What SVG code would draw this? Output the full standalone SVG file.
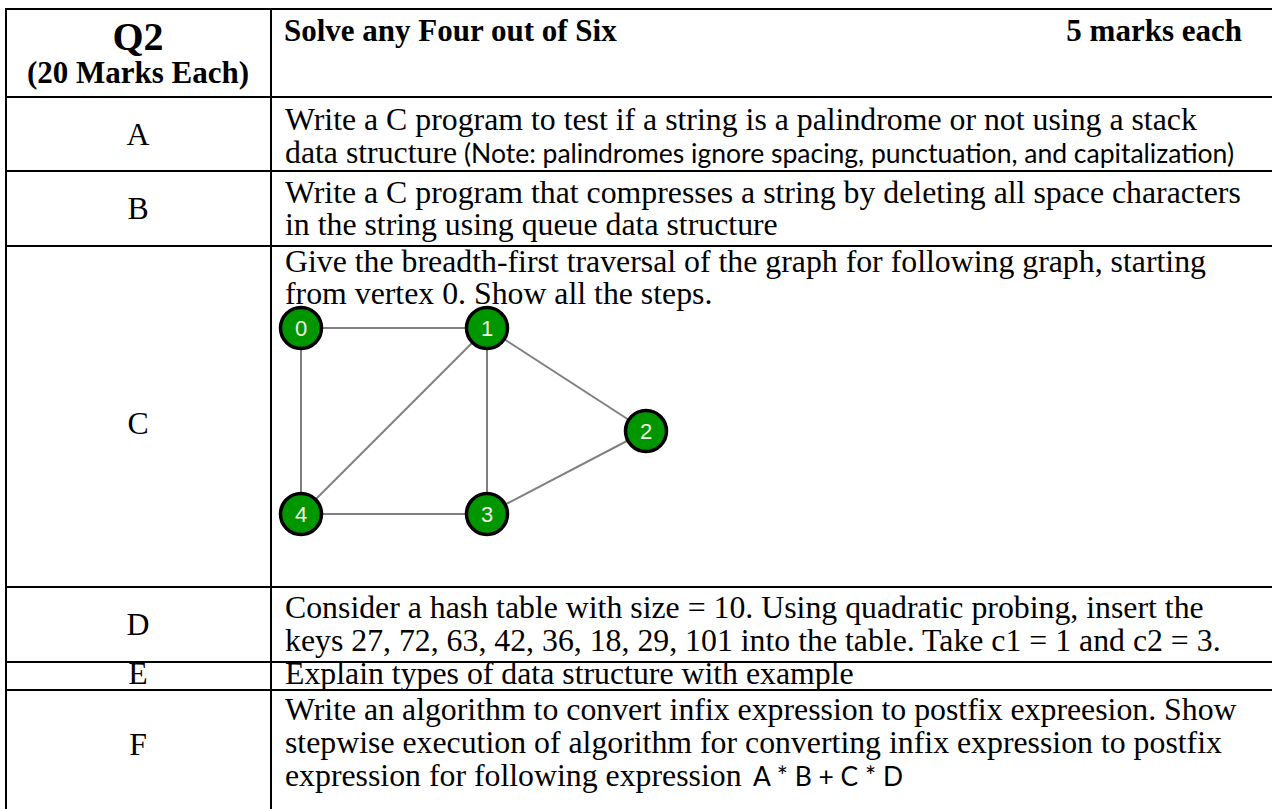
<svg xmlns="http://www.w3.org/2000/svg" width="1272" height="809" viewBox="0 0 1272 809">
<style>
.t{font-family:"Liberation Serif","Times New Roman",serif;font-size:31.8px;fill:#000}
.b{font-weight:bold;font-size:31px}
.c{text-anchor:middle}
.s{font-family:Lato,"Noto Sans",sans-serif;font-size:27px;fill:#000}
.ln{stroke:#000;stroke-width:2;fill:none}
.e{stroke:#808080;stroke-width:2}
.n circle{fill:#009600;stroke:#000;stroke-width:3.5}
.n text{font-family:"Liberation Sans",Arial,sans-serif;font-size:22px;fill:#f2f2e6;text-anchor:middle}
</style>
<rect width="1272" height="809" fill="#fff"/>
<g id="table-grid">
<path class="ln" d="M5 9H1272M5 97H1272M5 171H1272M5 246H1272M5 587H1272M5 662H1272M5 690H1272M6 8V809M271 8V809"/>
</g>
<g id="header">
<text class="t b c" x="138" y="50" style="font-size:40px">Q2</text>
<text class="t b c" x="138" y="83">(20 Marks Each)</text>
<text class="t b" x="284" y="41">Solve any Four out of Six</text>
<text class="t b" x="1242" y="41" text-anchor="end">5 marks each</text>
</g>
<g id="row-a">
<text class="t c" x="138" y="145">A</text>
<text class="t" x="285" y="130">Write a C program to test if a string is a palindrome or not using a stack</text>
<text class="t" x="285" y="163">data structure</text>
<text class="s" x="464" y="163" textLength="770" lengthAdjust="spacingAndGlyphs">(Note: palindromes ignore spacing, punctuation, and capitalization)</text>
</g>
<g id="row-b">
<text class="t c" x="138" y="219">B</text>
<text class="t" x="285" y="203">Write a C program that compresses a string by deleting all space characters</text>
<text class="t" x="285" y="235">in the string using queue data structure</text>
</g>
<g id="row-c">
<text class="t c" x="138" y="434">C</text>
<text class="t" x="285" y="272">Give the breadth-first traversal of the graph for following graph, starting</text>
<text class="t" x="285" y="304">from vertex 0. Show all the steps.</text>
</g>
<g id="connectors">
<line class="e" x1="301" y1="328" x2="487" y2="328"/>
<line class="e" x1="301" y1="328" x2="301" y2="514"/>
<line class="e" x1="487" y1="328" x2="301" y2="514"/>
<line class="e" x1="487" y1="328" x2="487" y2="514"/>
<line class="e" x1="487" y1="328" x2="646" y2="431"/>
<line class="e" x1="646" y1="431" x2="487" y2="514"/>
<line class="e" x1="301" y1="514" x2="487" y2="514"/>
</g>
<g id="node-0" class="n"><circle cx="301" cy="328" r="20.5"/><text x="301" y="336">0</text></g>
<g id="node-1" class="n"><circle cx="487" cy="328" r="20.5"/><text x="487" y="336">1</text></g>
<g id="node-2" class="n"><circle cx="646" cy="431" r="20.5"/><text x="646" y="439">2</text></g>
<g id="node-3" class="n"><circle cx="487" cy="514" r="20.5"/><text x="487" y="522">3</text></g>
<g id="node-4" class="n"><circle cx="301" cy="514" r="20.5"/><text x="301" y="522">4</text></g>
<g id="row-d">
<text class="t c" x="138" y="635">D</text>
<text class="t" x="285" y="618">Consider a hash table with size = 10. Using quadratic probing, insert the</text>
<text class="t" x="285" y="651">keys 27, 72, 63, 42, 36, 18, 29, 101 into the table. Take c1 = 1 and c2 = 3.</text>
</g>
<g id="row-e">
<text class="t c" x="138" y="684">E</text>
<text class="t" x="285" y="684">Explain types of data structure with example</text>
</g>
<g id="row-f">
<text class="t c" x="138" y="755">F</text>
<text class="t" x="285" y="720">Write an algorithm to convert infix expression to postfix expreesion. Show</text>
<text class="t" x="285" y="753">stepwise execution of algorithm for converting infix expression to postfix</text>
<text class="t" x="285" y="786">expression for following expression</text>
<text class="s" x="753" y="786" textLength="150" lengthAdjust="spacingAndGlyphs">A * B + C * D</text>
</g>
</svg>
